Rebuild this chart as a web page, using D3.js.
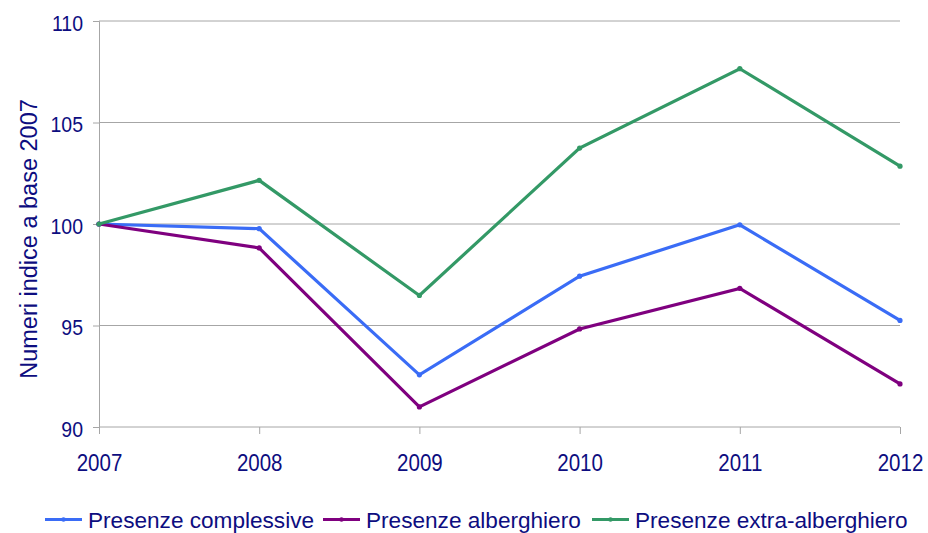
<!DOCTYPE html>
<html>
<head>
<meta charset="utf-8">
<script src="https://cdn.jsdelivr.net/npm/d3@7"></script>
<style>
  html, body { margin: 0; padding: 0; background: #fff; }
  svg { display: block; font-family: "Liberation Sans", Arial, sans-serif; }
</style>
</head>
<body>
<svg id="chart" width="928" height="533"></svg>
<script>
// Index numbers, base 2007 = 100
const years = ["2007", "2008", "2009", "2010", "2011", "2012"];
const complessive = [100, 99.77, 92.57, 97.43, 99.96, 95.25];
const alberghiero = [100, 98.82, 90.99, 94.83, 96.83, 92.12];
const extraAlberghiero = [100, 102.15, 96.48, 103.74, 107.65, 102.85];
const yTicks = [90, 95, 100, 105, 110];

const seriesNames = ["Presenze complessive", "Presenze alberghiero", "Presenze extra-alberghiero"];
const seriesColors = ["#3a6cf6", "#7f007f", "#339966"];
const seriesValues = [complessive, alberghiero, extraAlberghiero];

const textColor = "#0d0d80";
const tickStretch = 1.14; // tick labels are drawn slightly taller than wide
const svg = d3.select("#chart");
const plotLeft = 99, plotRight = 900, plotTop = 21, plotBottom = 427;

const x = d3.scalePoint().domain(years).range([plotLeft, plotRight]);
const y = d3.scaleLinear().domain([90, 110]).range([plotBottom, plotTop]);

// Horizontal gridlines
svg.append("g")
  .selectAll("line")
  .data(yTicks.filter(d => d !== 90))
  .join("line")
  .attr("x1", plotLeft).attr("x2", plotRight)
  .attr("y1", d => y(d)).attr("y2", d => y(d))
  .attr("stroke", "#a6a6a6").attr("stroke-width", 1);

// Y axis
const yAxis = svg.append("g")
  .attr("transform", `translate(${plotLeft},0)`)
  .call(d3.axisLeft(y).tickValues(yTicks).tickSize(6).tickPadding(10).tickFormat(d3.format("d")));
yAxis.select(".domain").attr("stroke", "#a6a6a6");
yAxis.selectAll(".tick line").attr("stroke", "#a6a6a6");
yAxis.selectAll(".tick text")
  .attr("fill", textColor).attr("font-size", 19.5)
  .attr("font-family", "Liberation Sans, Arial, sans-serif")
  .attr("dy", null)
  .attr("y", 9 / tickStretch)
  .attr("transform", `scale(1,${tickStretch})`);

// X axis
const xAxis = svg.append("g")
  .attr("transform", `translate(0,${plotBottom})`)
  .call(d3.axisBottom(x).tickSize(7).tickPadding(18));
xAxis.select(".domain").attr("stroke", "#a6a6a6").attr("d", `M${plotLeft},0H${plotRight}`);
xAxis.selectAll(".tick line").attr("stroke", "#a6a6a6");
xAxis.selectAll(".tick text")
  .attr("fill", textColor).attr("font-size", 20.5)
  .attr("font-family", "Liberation Sans, Arial, sans-serif")
  .attr("dy", null)
  .attr("y", 44 / tickStretch)
  .attr("transform", `scale(1,${tickStretch})`);

// Y axis title
svg.append("text")
  .attr("transform", `translate(37,239) rotate(-90)`)
  .attr("text-anchor", "middle")
  .attr("fill", textColor)
  .attr("font-size", 23.5)
  .text("Numeri indice a base 2007");

// Lines
const line = d3.line().x((d, i) => x(years[i])).y(d => y(d));
seriesValues.forEach((vals, s) => {
  const g = svg.append("g");
  g.append("path")
    .datum(vals)
    .attr("d", line)
    .attr("fill", "none")
    .attr("stroke", seriesColors[s])
    .attr("stroke-width", 3.2)
    .attr("stroke-linejoin", "miter");
  g.selectAll("circle")
    .data(vals)
    .join("circle")
    .attr("cx", (d, i) => x(years[i]))
    .attr("cy", d => y(d))
    .attr("r", 2.6)
    .attr("fill", seriesColors[s]);
});

// Legend
const legendX = [45, 323, 592];
const legendLineY = 519.5;
const lg = svg.append("g");
seriesNames.forEach((name, s) => {
  lg.append("line")
    .attr("x1", legendX[s]).attr("x2", legendX[s] + 37)
    .attr("y1", legendLineY).attr("y2", legendLineY)
    .attr("stroke", seriesColors[s]).attr("stroke-width", 3.2);
  lg.append("circle")
    .attr("cx", legendX[s] + 18.5).attr("cy", legendLineY).attr("r", 2.2)
    .attr("fill", seriesColors[s]);
  lg.append("text")
    .attr("x", legendX[s] + 43).attr("y", 528)
    .attr("fill", textColor)
    .attr("font-size", 22.6)
    .text(name);
});
</script>
</body>
</html>
